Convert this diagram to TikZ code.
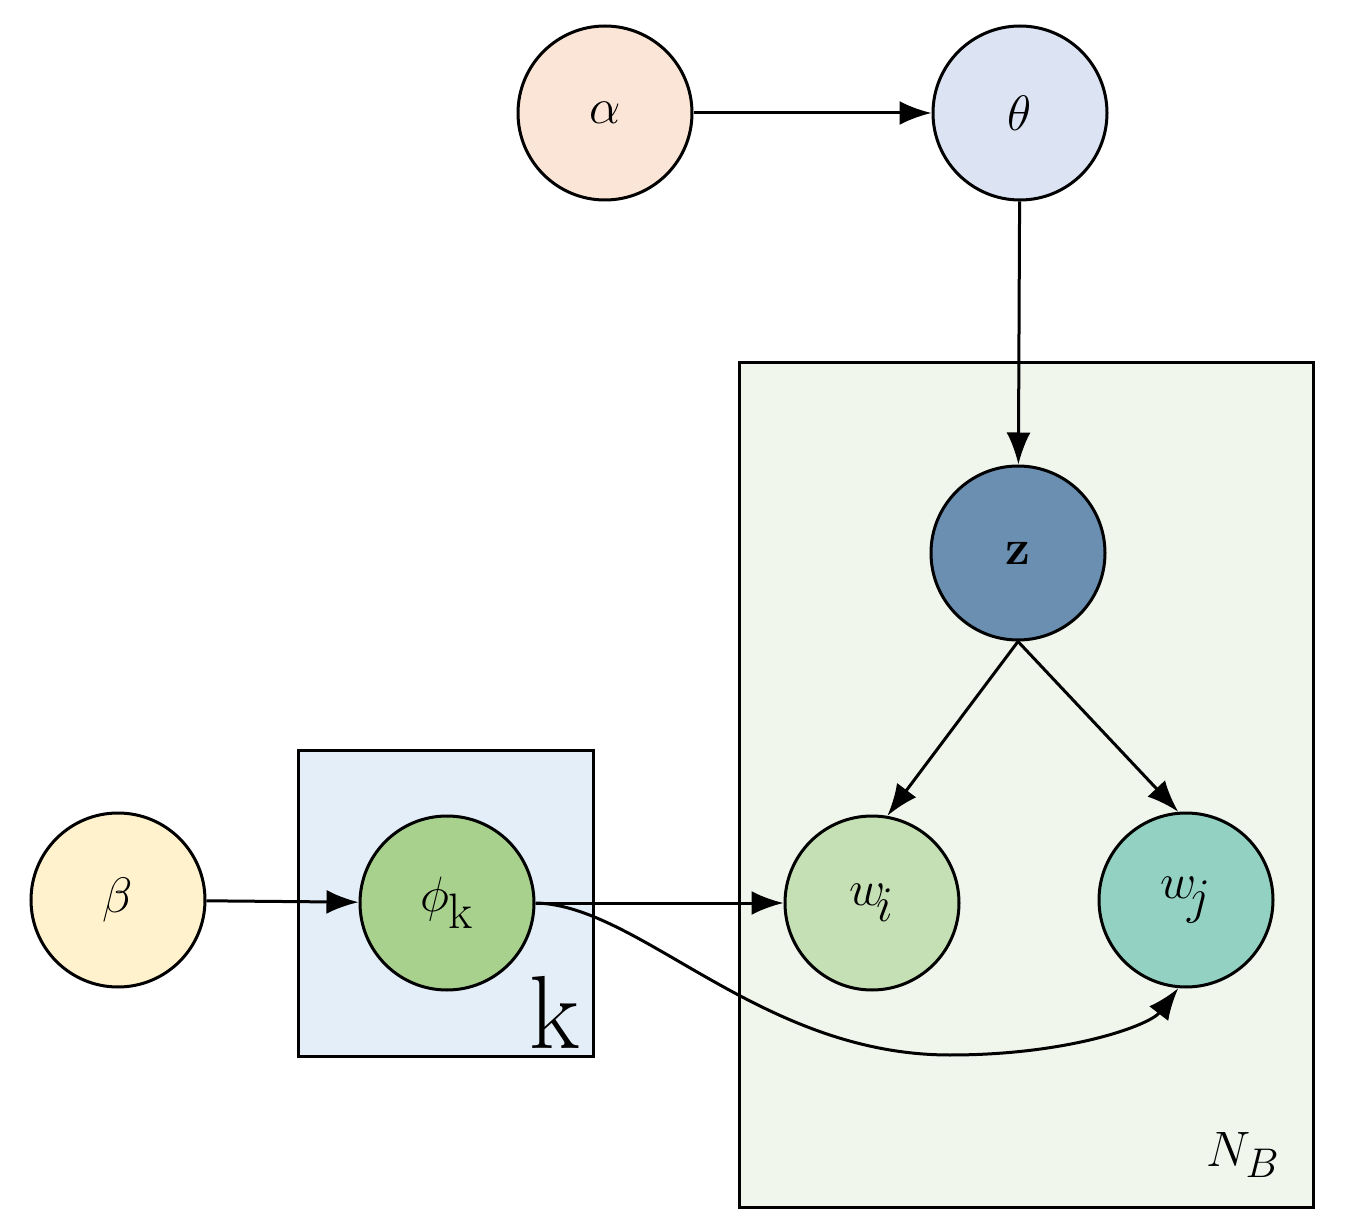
\documentclass[tikz,border=0pt]{standalone}
\usetikzlibrary{arrows.meta}
\begin{document}
\begin{tikzpicture}[x=0.5pt,y=-0.5pt,
  nd/.style={circle,draw,line width=1.5pt,minimum size=87pt,inner sep=0pt,font=\fontsize{56}{60}\selectfont},
  ar/.style={line width=1.5pt,-{Latex[length=16pt,width=12pt]}},
  plate/.style={draw,line width=1.5pt}]
\useasboundingbox (0,0) rectangle (1346,1230);
\definecolor{ca}{HTML}{FBE5D6}\definecolor{ct}{HTML}{DCE3F3}\definecolor{cb}{HTML}{FFF2CC}
\definecolor{cp}{HTML}{A9D18E}\definecolor{cwi}{HTML}{C5E0B4}\definecolor{cwj}{HTML}{93D2C2}
\definecolor{cz}{HTML}{6A8FB0}\definecolor{pn}{HTML}{F0F6EC}\definecolor{pk}{HTML}{E3EEF8}
\draw[plate,fill=pn] (739,363) rectangle (1313,1207);
\draw[plate,fill=pk] (298,750) rectangle (593,1056);
\node[nd,fill=ca] (a) at (605,113) {$\alpha$};
\node[nd,fill=ct] (t) at (1020,113) {$\theta$};
\node[nd,fill=cz] (z) at (1018,553) {$\mathbf{z}$};
\node[nd,fill=cwi] (wi) at (872,903) {$w_{\!i}$};
\node[nd,fill=cwj] (wj) at (1186,900) {$w_{\!j}$};
\node[nd,fill=cp] (p) at (447,903) {$\phi_{\mathrm{k}}$};
\node[nd,fill=cb] (b) at (118,900) {$\beta$};
\node[font=\fontsize{52}{56}\selectfont] (kl) at (555,1012) {k};
\node[font=\fontsize{30}{34}\selectfont] (nb) at (1243,1155) {$N_B$};
\draw[ar] (a) -- (t);
\draw[ar] (t) -- (z);
\draw[ar] (z.south) -- (wi.80);
\draw[ar] (z.south) -- (wj.95);
\draw[ar] (b) -- (p);
\draw[ar] (p) -- (wi);
\draw[ar] (p.east) .. controls (640,905) and (760,1055) .. (950,1055) .. controls (1070,1055) and (1150,1025) .. (wj.-95);
\end{tikzpicture}
\end{document}
